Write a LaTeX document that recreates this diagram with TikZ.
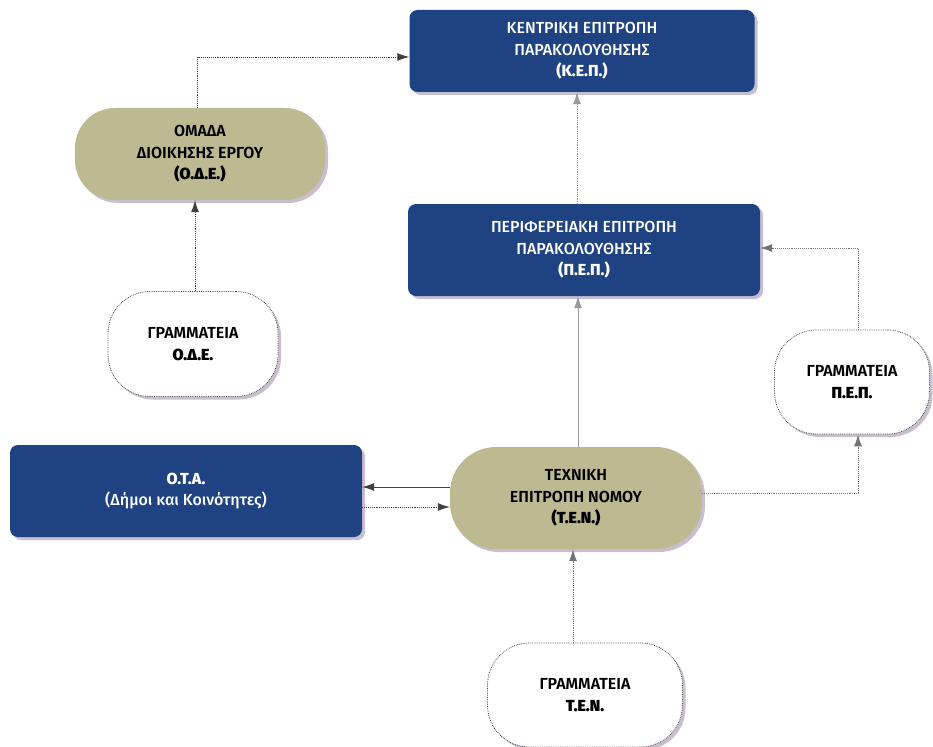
\documentclass[tikz,border=0pt]{standalone}
\usepackage{fontspec}
\setmainfont{Fira Sans}
\newfontfamily\medfont{Fira Sans Medium}
\newfontfamily\semifont{Fira Sans SemiBold}
\usetikzlibrary{arrows.meta,shadows}
\definecolor{navy}{HTML}{1F4282}
\definecolor{khaki}{HTML}{BDBA92}
\definecolor{shadowc}{HTML}{9A8AA6}
\definecolor{linegray}{HTML}{9A9A9A}
\begin{document}
\begin{tikzpicture}[x=1pt,y=-1pt,
  every node/.style={font=\medfont\fontsize{16}{21.5}\selectfont, align=center, inner sep=0pt},
  shad/.style={drop shadow={shadow xshift=3pt, shadow yshift=-3pt, fill=shadowc, opacity=0.55}},
  bluebox/.style={shad, fill=navy, rounded corners=8pt, text=white, minimum width=#1},
  pillbox/.style={shad, fill=khaki, rounded corners=40pt, text=black, font=\semifont\fontsize{16}{21.5}\selectfont},
  whitepill/.style={shad, fill=white, draw=black!70, densely dotted, line width=0.8pt, rounded corners=42pt, text=black, font=\semifont\fontsize{16}{21.5}\selectfont},
  tip/.style={-{Latex[length=12pt,width=8pt]}},
  dotarrow/.style={tip, densely dotted, line width=0.9pt, draw=black!75},
  solidarrow/.style={tip, line width=0.9pt, draw=black!75},
  grayarrow/.style={tip, densely dotted, line width=0.8pt, draw=linegray},
]
\useasboundingbox (0,0) rectangle (933,746);

\node[bluebox=345pt, minimum height=82pt] (kep) at (582,51)
  {ΚΕΝΤΡΙΚΗ ΕΠΙΤΡΟΠΗ\\ΠΑΡΑΚΟΛΟΥΘΗΣΗΣ\\\textbf{(Κ.Ε.Π.)}};
\node[bluebox=352pt, minimum height=92pt] (pep) at (584,250)
  {ΠΕΡΙΦΕΡΕΙΑΚΗ ΕΠΙΤΡΟΠΗ\\ΠΑΡΑΚΟΛΟΥΘΗΣΗΣ\\\textbf{(Π.Ε.Π.)}};
\node[bluebox=352pt, minimum height=92pt] (ota) at (186,491)
  {\textbf{Ο.Τ.Α.}\\(Δήμοι και Κοινότητες)};
\node[pillbox, minimum width=250pt, minimum height=92pt] (ode) at (200,154)
  {ΟΜΑΔΑ\\ΔΙΟΙΚΗΣΗΣ ΕΡΓΟΥ\\\textbf{(Ο.Δ.Ε.)}};
\node[pillbox, minimum width=252pt, minimum height=102pt, rounded corners=46pt] (ten) at (576,498)
  {ΤΕΧΝΙΚΗ\\ΕΠΙΤΡΟΠΗ ΝΟΜΟΥ\\\textbf{(Τ.Ε.Ν.)}};
\node[whitepill, minimum width=170pt, minimum height=105pt] (gode) at (193,344)
  {ΓΡΑΜΜΑΤΕΙΑ\\\textbf{Ο.Δ.Ε.}};
\node[whitepill, minimum width=155pt, minimum height=104pt] (gpep) at (852,382)
  {ΓΡΑΜΜΑΤΕΙΑ\\\textbf{Π.Ε.Π.}};
\node[whitepill, minimum width=195pt, minimum height=104pt] (gten) at (585,695)
  {ΓΡΑΜΜΑΤΕΙΑ\\\textbf{Τ.Ε.Ν.}};

\coordinate (c1) at (197,57);
\draw[dotarrow] (ode.north -| c1) -- (c1) -- (c1 -| kep.west);
\draw[dotarrow] (gode.north -| 195,0) -- (ode.south -| 195,0);
\coordinate (c2) at (577,0);
\draw[grayarrow] (pep.north -| c2) -- (kep.south -| c2);
\coordinate (c3) at (578,0);
\draw[solidarrow, draw=linegray] (ten.north -| c3) -- (pep.south -| c3);
\coordinate (c4) at (0,487);
\coordinate (c5) at (0,507);
\draw[solidarrow] (ten.west |- c4) -- (ota.east |- c4);
\draw[dotarrow] (ota.east |- c5) -- (ten.west |- c5);
\coordinate (c6) at (858,493);
\draw[dotarrow, draw=black!55] (ten.east |- c6) -- (c6) -- (gpep.south -| c6);
\coordinate (c7) at (858,248);
\draw[dotarrow, draw=black!55] (gpep.north -| c7) -- (c7) -- (c7 -| pep.east);
\coordinate (c8) at (573,0);
\draw[dotarrow, draw=black!55] (gten.north -| c8) -- (ten.south -| c8);
\end{tikzpicture}
\end{document}
